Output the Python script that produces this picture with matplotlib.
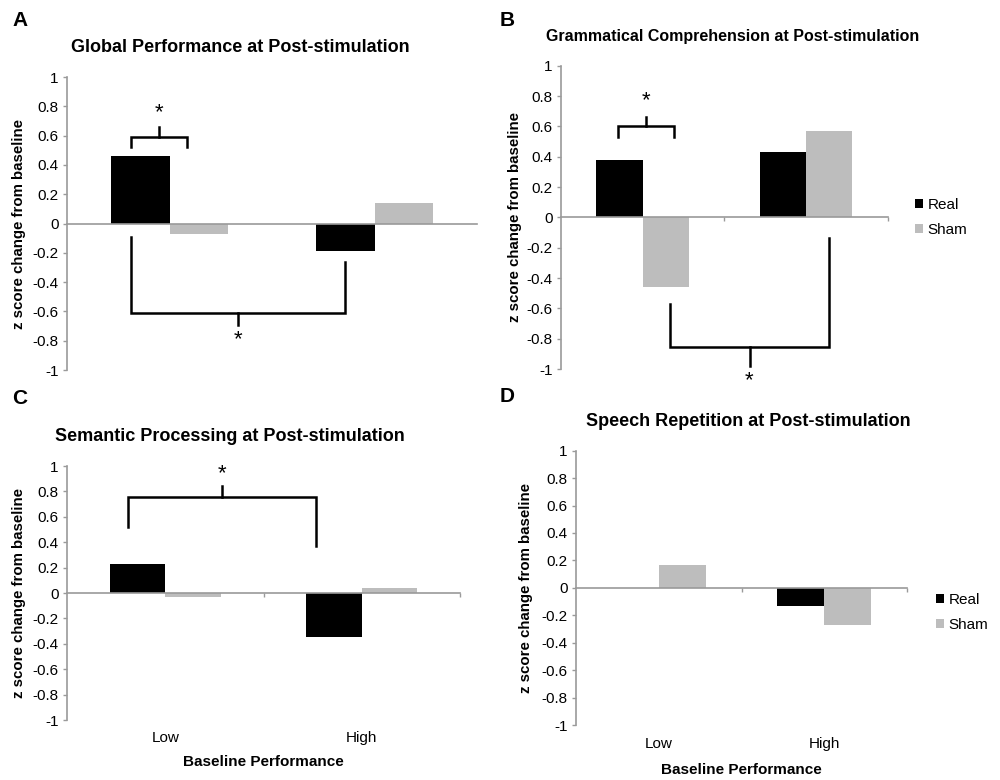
import matplotlib
matplotlib.use('Agg')
from matplotlib import pyplot as plt
from matplotlib.patches import Patch
import numpy as np

plt.rcParams['font.family'] = ['Liberation Sans', 'DejaVu Sans']

# data
groups = ['Low', 'High']
series = ['Real', 'Sham']
global_real = [0.46, -0.19]
global_sham = [-0.07, 0.14]
gram_real = [0.38, 0.43]
gram_sham = [-0.46, 0.57]
sem_real = [0.23, -0.35]
sem_sham = [-0.03, 0.04]
rep_real = [0.0, -0.13]
rep_sham = [0.17, -0.27]

# significance brackets: (x_left, x_right, y_left_end, y_right_end, y_bar, y_tip, y_star)
brackets_A = [(-0.19, 0.085, 0.52, 0.52, 0.59, 0.66, 0.76),
              (-0.19, 0.856, -0.09, -0.26, -0.61, -0.69, -0.79)]
brackets_B = [(-0.15, 0.19, 0.53, 0.53, 0.60, 0.66, 0.77),
              (0.167, 1.141, -0.57, -0.136, -0.857, -0.98, -1.08)]
brackets_C = [(-0.188, 0.767, 0.517, 0.367, 0.758, 0.845, 0.937)]
brackets_D = []

black = '#000000'
grey = '#bdbdbd'
axcol = '#9a9a9a'
width = 0.283


def draw_panel(rect, letter, letter_xy, title, tsize, title_x, real, sham,
               brackets, ylab_x, show_x, legend_y=None, xticks=True):
    ax = fig.add_axes(rect)
    x = np.arange(len(groups))
    ax.bar(x - width / 2, real, width, color=black, edgecolor='none')
    ax.bar(x + width / 2, sham, width, color=grey, edgecolor='none')
    ax.set_xlim(-0.5, 1.5)
    ax.set_ylim(-1, 1)
    yt = np.arange(-1, 1.01, 0.2)
    ax.set_yticks(yt)
    ax.set_yticklabels(['%g' % (round(v, 1) + 0.0) if abs(v) > 1e-9 else '0'
                        for v in yt])
    ax.spines['right'].set_visible(False)
    ax.spines['top'].set_visible(False)
    ax.spines['bottom'].set_position(('data', 0))
    ax.spines['left'].set_color(axcol)
    ax.spines['bottom'].set_color(axcol)
    ax.spines['left'].set_linewidth(1.2)
    ax.spines['bottom'].set_linewidth(1.2)
    ax.tick_params(axis='y', colors=axcol, labelcolor='black', labelsize=11,
                   length=3, width=1, pad=3)
    ax.set_xticks([])
    if xticks:
        ax.set_xticks([0.5, 1.5], minor=True)
        ax.tick_params(axis='x', which='minor', colors=axcol, length=3, width=1)
    ax.set_ylabel('z score change from baseline', fontsize=10.8,
                  fontweight='bold')
    ax.yaxis.set_label_coords(ylab_x, 0.5)
    ax.set_title(title, fontsize=tsize, fontweight='bold', pad=18, x=title_x)
    fig.text(letter_xy[0] / 1000, 1 - letter_xy[1] / 780, letter,
             fontsize=15, fontweight='bold', ha='center', va='center')
    if show_x:
        tr = ax.get_xaxis_transform()
        for xi, g in zip(x, groups):
            ax.text(xi, -0.07, g, transform=tr, ha='center', va='center',
                    fontsize=11)
        ax.text(0.5, -0.165, 'Baseline Performance', transform=ax.transAxes,
                ha='center', va='center', fontsize=11, fontweight='bold')
    for xl, xr, yl, yr, yb, ytip, ys in brackets:
        xm = (xl + xr) / 2
        ax.plot([xl, xl, xr, xr], [yl, yb, yb, yr], color='black', lw=1.8,
                solid_joinstyle='miter', clip_on=False)
        ax.plot([xm, xm], [yb, ytip], color='black', lw=1.8, clip_on=False)
        ax.text(xm, ys, '*', ha='center', va='center', fontsize=16,
                clip_on=False)
    if legend_y is not None:
        handles = [Patch(facecolor=black, edgecolor='none', label=series[0]),
                   Patch(facecolor=grey, edgecolor='none', label=series[1])]
        ax.legend(handles=handles, loc='center left',
                  bbox_to_anchor=(legend_y[0], legend_y[1]), frameon=False,
                  fontsize=11, handlelength=0.5, handleheight=0.5,
                  handletextpad=0.3, labelspacing=0.7, borderaxespad=0)
    return ax


fig = plt.figure(figsize=(10, 7.8), dpi=100)

draw_panel([0.067, 0.5256, 0.41, 0.3756], 'A', (20, 20),
           'Global Performance at Post-stimulation', 13, 0.422,
           global_real, global_sham, brackets_A, -0.1, False, xticks=False)
draw_panel([0.561, 0.5269, 0.3267, 0.3889], 'B', (507, 20),
           'Grammatical Comprehension at Post-stimulation', 11.5, 0.526,
           gram_real, gram_sham, brackets_B, -0.12, False,
           legend_y=(1.065, 0.5))
draw_panel([0.067, 0.0769, 0.393, 0.3256], 'C', (20, 398),
           'Semantic Processing at Post-stimulation', 13, 0.415,
           sem_real, sem_sham, brackets_C, -0.105, True)
draw_panel([0.576, 0.0705, 0.331, 0.3517], 'D', (507, 397),
           'Speech Repetition at Post-stimulation', 13, 0.52,
           rep_real, rep_sham, brackets_D, -0.13, True,
           legend_y=(1.07, 0.41))

fig.savefig('out.png', dpi=100)
